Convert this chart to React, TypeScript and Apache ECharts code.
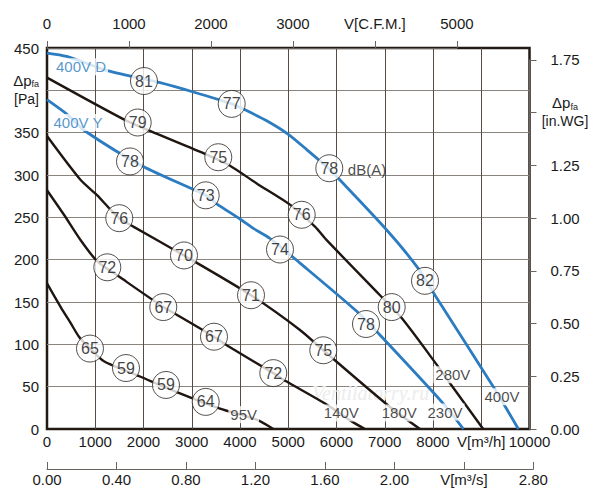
import React, { useEffect, useRef } from "react";
import * as echarts from "echarts";

// ---------- data (m³/h, Pa) ----------
const curve400D = [[0,444],[408,440],[1271,423],[2342,409],[3032,398],[3828,384],[4104,377],[4553,364],[5001,348],[5382,330],[5851,307],[6072,294],[7040,235],[7662,192],[8041,158],[9250,50],[9770,0]];
const curve400Y = [[0,389],[408,372],[788,352],[1996,310],[3289,276],[3517,266],[4000,248],[4276,237],[4622,225],[5243,196],[6419,139],[6901,111],[8213,30],[8630,0]];
const curve280 = [[0,415],[1581,366],[2135,352],[3310,324],[3793,311],[4346,290],[5036,265],[5554,239],[5797,223],[6901,158],[7351,131],[8077,76],[8352,54],[9040,0]];
const curve180 = [[0,346],[698,294],[1042,276],[1285,261],[1498,249],[1789,239],[2839,205],[4228,158],[5243,117],[5726,93],[7109,26],[7730,0]];
const curve140 = [[0,282],[352,253],[698,223],[1042,198],[1492,180],[2410,144],[2688,135],[3461,109],[3724,99],[4690,66],[4968,56],[5762,30],[6315,9],[6590,0]];
const curve95 = [[0,172],[284,144],[491,125],[663,109],[891,95],[1181,80],[1927,62],[2756,42],[3585,24],[4346,11],[4690,0]];

// noise levels dB(A): [flow, pressure, value]
const dB400D = [[2010,411,81],[3828,384,77],[5851,308,78],[7834,175,82]];
const dB280 = [[1880,362,79],[3550,321,75],[5279,253,76],[7144,144,80]];
const dB400Y = [[1720,316,78],[3289,276,73],[4829,212,74],[6611,124,78]];
const dB180 = [[1498,249,76],[2839,205,70],[4228,158,71],[5726,93,75]];
const dB140 = [[1250,191,72],[2410,144,67],[3461,109,67],[4690,66,72]];
const dB95 = [[891,95,65],[1637,72,59],[2466,52,59],[3289,32,64]];

// curve annotations: [flow, pressure, text]
const blueLabels = [[705,428,"400V D"],[642,362,"400V Y"]];
const blackLabels = [[4077,17,"95V"],[6100,19,"140V"],[7300,19,"180V"],[8249,20,"230V"],[8411,64,"280V"],[9430,38,"400V"]];
const unitLabel = [[6632,306,"dB(A)"]];

// axis ranges
const flowMax = 10000;
const flowStep = 1000;
const pressureMax = 450;
const pressureStep = 50;
const cfmMax = 5000;
const cfmStep = 1000;
const m3sMax = 2.8;
const m3sStep = 0.4;
const inwgMax = 1.75;
const inwgStep = 0.25;
const m3hPerCfm = 1.699;
const paPerInwg = 249.089;

const BLUE = "#2b7cc0";
const BLACK = "#1f1611";
const FONT = "Liberation Sans, Arial, sans-serif";

export default function App() {
  const ref = useRef<HTMLDivElement>(null);
  useEffect(() => {
    if (!ref.current) return;
    const chart = echarts.init(ref.current, undefined, { renderer: "svg" });

    const L = 47, R = 70.5, T = 48, B = 71;
    const plotW = 600 - L - R;
    const plotH = 500 - T - B;
    const cfmW = plotW * (cfmMax * m3hPerCfm) / flowMax;
    const m3sW = plotW * (m3sMax * 3600) / flowMax;
    const inwgH = plotH * (inwgMax * paPerInwg) / pressureMax;

    const rich = {
      d: { fontSize: 15, fontFamily: FONT, color: "#1a1a1a" },
      s: { fontSize: 9, fontFamily: FONT, color: "#1a1a1a", padding: [8, 0, 0, 0] },
      u: { fontSize: 14, fontFamily: FONT, color: "#1a1a1a", lineHeight: 20 },
    };

    const lineSeries = (data: number[][], color: string, width: number) => ({
      type: "line",
      xAxisIndex: 0,
      yAxisIndex: 0,
      data,
      smooth: 0.25,
      showSymbol: false,
      symbol: "none",
      silent: true,
      z: 2,
      lineStyle: { color, width },
    });

    const dbSeries = (data: number[][]) => ({
      type: "scatter",
      xAxisIndex: 0,
      yAxisIndex: 0,
      data,
      symbol: "circle",
      symbolSize: 27,
      silent: true,
      z: 5,
      itemStyle: { color: "#ffffff", borderColor: "#2a2420", borderWidth: 1 },
      label: {
        show: true,
        position: "inside",
        formatter: (p: any) => String(p.value[2]),
        fontSize: 16,
        fontFamily: FONT,
        color: "#111111",
      },
    });

    const textSeries = (data: any[][], color: string, bg: string | undefined) => ({
      type: "scatter",
      xAxisIndex: 0,
      yAxisIndex: 0,
      data,
      symbol: "circle",
      symbolSize: 1,
      silent: true,
      z: 6,
      itemStyle: { color: "rgba(0,0,0,0)" },
      label: {
        show: true,
        position: "inside",
        formatter: (p: any) => String(p.value[2]),
        fontSize: 15,
        fontFamily: FONT,
        color,
        backgroundColor: bg,
        padding: [1, 2],
      },
    });

    const hidden = { show: false };

    chart.setOption({
      animation: false,
      textStyle: { fontFamily: FONT },
      grid: [
        { left: L, right: R, top: T, bottom: B, show: true, borderColor: "#231a14", borderWidth: 2.5, backgroundColor: "#ffffff" },
        { left: L, top: 38, width: cfmW, height: 10 },
        { left: L, top: 459, width: m3sW, height: 10 },
        { left: 600 - R, top: 500 - B - inwgH, width: 540 - (600 - R), height: inwgH },
      ],
      xAxis: [
        {
          gridIndex: 0, type: "value", position: "bottom", min: 0, max: flowMax, interval: flowStep,
          axisLine: { show: false }, axisTick: { show: false },
          axisLabel: {
            margin: 5, fontSize: 15, color: "#1a1a1a",
            formatter: (v: number) => (v === 9000 ? "V[m³/h]" : String(v)),
          },
          splitLine: { show: true, showMinLine: false, showMaxLine: false, lineStyle: { color: "#564c44", width: 1 } },
        },
        {
          gridIndex: 1, type: "value", position: "top", min: 0, max: cfmMax, interval: cfmStep,
          axisLine: { show: true, lineStyle: { color: "#6a6460", width: 1 } },
          axisTick: { show: true, length: 7, lineStyle: { color: "#6a6460" } },
          axisLabel: {
            margin: 7, fontSize: 15, color: "#1a1a1a",
            formatter: (v: number) => (v === 4000 ? "V[C.F.M.]" : String(v)),
          },
          splitLine: hidden,
        },
        {
          gridIndex: 2, type: "value", position: "bottom", min: 0, max: m3sMax, interval: m3sStep,
          axisLine: { show: true, lineStyle: { color: "#6a6460", width: 1 } },
          axisTick: { show: true, inside: true, length: 7, lineStyle: { color: "#6a6460" } },
          axisLabel: {
            margin: 3, fontSize: 15, color: "#1a1a1a",
            formatter: (v: number) => (Math.abs(v - 2.4) < 1e-6 ? "V[m³/s]" : v.toFixed(2)),
          },
          splitLine: hidden,
        },
        { gridIndex: 3, type: "value", show: false },
      ],
      yAxis: [
        {
          gridIndex: 0, type: "value", position: "left", min: 0, max: pressureMax, interval: pressureStep,
          axisLine: { show: false }, axisTick: { show: false },
          axisLabel: {
            margin: 8, fontSize: 15, color: "#1a1a1a",
            formatter: (v: number) => (v === 400 ? "{d|Δp}{s|fa}\n{u|[Pa]}" : String(v)),
            rich,
          },
          splitLine: { show: true, showMinLine: false, showMaxLine: false, lineStyle: { color: "#8a847e", width: 1 } },
        },
        { gridIndex: 1, type: "value", show: false },
        { gridIndex: 2, type: "value", show: false },
        {
          gridIndex: 3, type: "value", position: "right", min: 0, max: inwgMax, interval: inwgStep,
          axisLine: { show: true, lineStyle: { color: "#6a6460", width: 1 } },
          axisTick: { show: true, length: 7, lineStyle: { color: "#6a6460" } },
          axisLabel: {
            margin: 25, align: "center", fontSize: 15, color: "#1a1a1a",
            formatter: (v: number) => (Math.abs(v - 1.5) < 1e-6 ? "{d|Δp}{s|fa}\n{u|[in.WG]}" : v.toFixed(2)),
            rich,
          },
          splitLine: hidden,
        },
      ],
      graphic: [
        {
          type: "text", left: 312, top: 383, z: 1, silent: true,
          style: { text: "Ventilatorry.ru", font: 'italic 20px "Liberation Serif", serif', fill: "#ececec" },
        },
      ],
      series: [
        lineSeries(curve95, BLACK, 2.4),
        lineSeries(curve140, BLACK, 2.4),
        lineSeries(curve180, BLACK, 2.4),
        lineSeries(curve280, BLACK, 2.4),
        lineSeries(curve400Y, BLUE, 2.8),
        lineSeries(curve400D, BLUE, 2.8),
        dbSeries(dB95),
        dbSeries(dB140),
        dbSeries(dB180),
        dbSeries(dB280),
        dbSeries(dB400Y),
        dbSeries(dB400D),
        textSeries(blueLabels, BLUE, "#ffffff"),
        textSeries(blackLabels, "#1a1a1a", "#ffffff"),
        textSeries(unitLabel, "#1a1a1a", undefined),
      ],
    });
    return () => chart.dispose();
  }, []);
  return (
    <div
      ref={ref}
      style={{ position: "absolute", left: 0, top: 0, width: 600, height: 500, background: "#ffffff" }}
    />
  );
}
